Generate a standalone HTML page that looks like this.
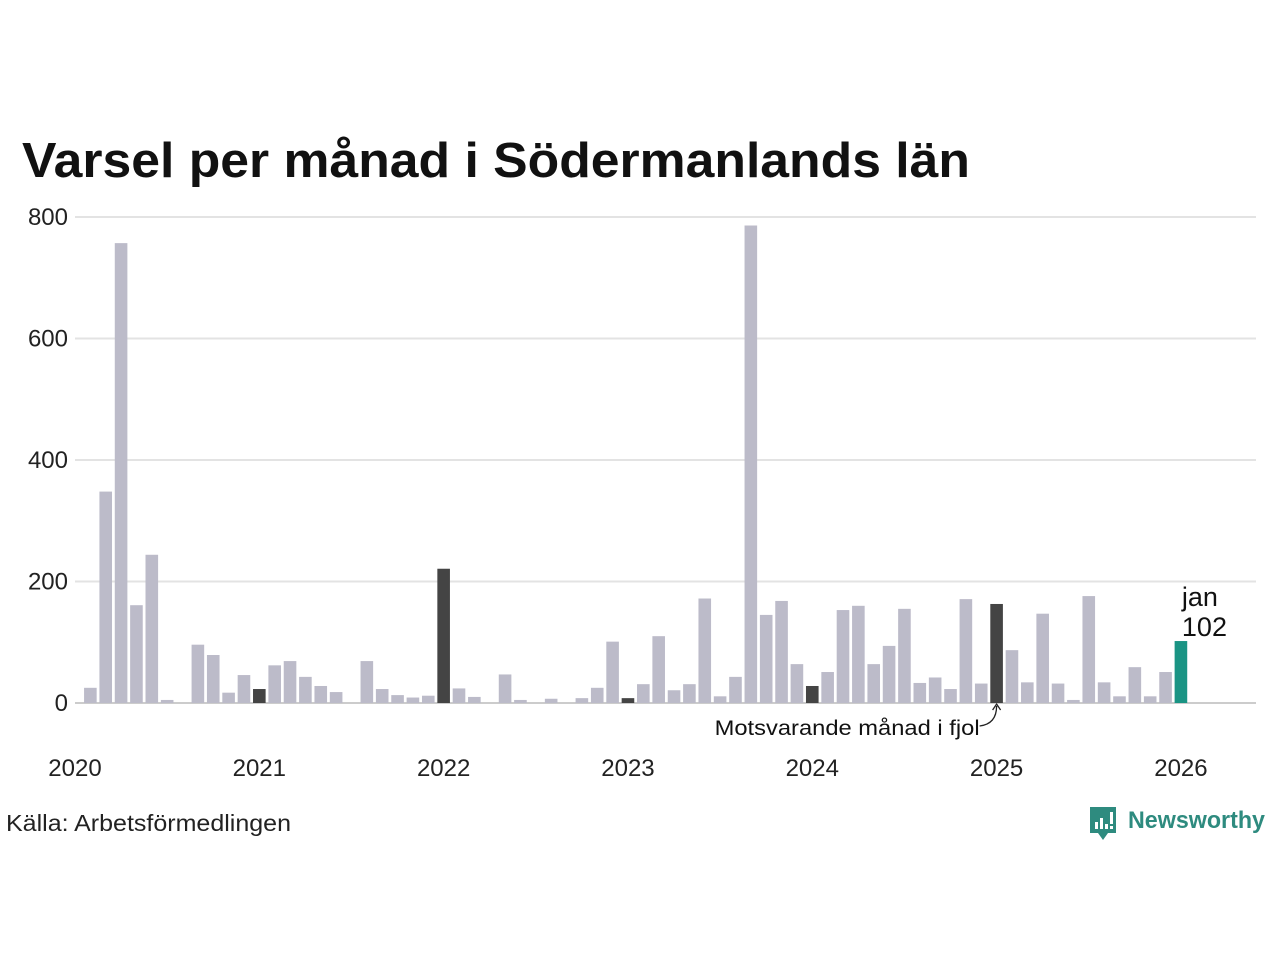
<!DOCTYPE html>
<html><head><meta charset="utf-8"><style>
body{margin:0;background:#fff;font-family:"Liberation Sans",sans-serif;}
svg text{font-family:"Liberation Sans",sans-serif;}
</style></head><body>
<svg id="chart" width="1280" height="960">
<text x="22" y="177" font-size="49" font-weight="bold" fill="#111" textLength="948" lengthAdjust="spacingAndGlyphs">Varsel per månad i Södermanlands län</text>
<g id="grid"></g><g id="bars"></g><g id="xlab"></g>
<text x="6" y="831" font-size="23" fill="#222" textLength="285" lengthAdjust="spacingAndGlyphs">Källa: Arbetsförmedlingen</text>
<g>
<path d="M1090 807 h26 v26 h-8 l-5 7 l-5 -7 h-8 z" fill="#2e8b7f"/>
<rect x="1095" y="822" width="3" height="7" fill="#fff"/><rect x="1100" y="818" width="3" height="11" fill="#fff"/><rect x="1105" y="824" width="3" height="5" fill="#fff"/><rect x="1110" y="812" width="3" height="12" fill="#fff"/><rect x="1110" y="826" width="3" height="3" fill="#fff"/>
<text x="1128" y="828" font-size="24" font-weight="bold" fill="#2e8b7f" textLength="137" lengthAdjust="spacingAndGlyphs">Newsworthy</text>
</g>
</svg>
<script>
const months=["jan","feb","mar","apr","maj","jun","jul","aug","sep","okt","nov","dec"];
const values=[0,25,348,757,161,244,5,0,96,79,17,46,
23,62,69,43,28,18,0,69,23,13,9,12,
221,24,10,0,47,5,0,7,0,8,25,101,
8,31,110,21,31,172,11,43,786,145,168,64,
28,51,153,160,64,94,155,33,42,23,171,32,
163,87,34,147,32,5,176,34,11,59,11,51,
102];
const yTicks=[0,200,400,600,800];
const xYears=["2020","2021","2022","2023","2024","2025","2026"];
const ns="http://www.w3.org/2000/svg";
const x0=75,step=15.36,y0=703,yk=486/800;
const X=i=>x0+i*step, Y=v=>y0-v*yk;
function mk(t,a,p){const e=document.createElementNS(ns,t);for(const k in a)e.setAttribute(k,a[k]);p.appendChild(e);return e;}
const g=document.getElementById('grid');
yTicks.forEach(v=>{
 const l=mk('line',{x1:75,x2:1256,y1:Y(v),y2:Y(v),stroke:v===0?'#ccc':'#e3e3e3','stroke-width':2},g);
 
 
 const t=mk('text',{x:68,y:Y(v)+8,'font-size':24,'text-anchor':'end',fill:'#222'},g);
 t.textContent=v;
 
 
});
const b=document.getElementById('bars');
const last=values.length-1;
values.forEach((v,i)=>{
 if(v<=0)return;
 let c='#bcbbc9';
 if(i===last)c='#1a9484';else if(i%12===0)c='#444';
 const r=mk('rect',{x:X(i)-6.3,y:Y(v),width:12.6,height:v*yk,fill:c},b);
 
 
});
const xl=document.getElementById('xlab');
xYears.forEach((y,k)=>{
 const t=mk('text',{x:X(k*12),y:776,'font-size':24,'text-anchor':'middle',fill:'#222'},xl);
 t.textContent=y;
 
 
});
const lx=X(last)+1;
const t1=mk('text',{x:lx,y:606,'font-size':27,fill:'#111'},xl);t1.textContent=months[last%12];


const t2=mk('text',{x:lx,y:636,'font-size':27,fill:'#111'},xl);t2.textContent=values[last];


const ax=X(last-12);
const p=mk('path',{d:`M${ax-17} 726 Q${ax} 724 ${ax} 706 M${ax-4} 710 L${ax} 704 L${ax+4} 710`,fill:'none',stroke:'#222','stroke-width':1.3},xl);


const t3=mk('text',{x:ax-17,y:735,'font-size':21,'text-anchor':'end',fill:'#111',textLength:265,lengthAdjust:'spacingAndGlyphs'},xl);t3.textContent='Motsvarande månad i fjol';


</script>
</body></html>
